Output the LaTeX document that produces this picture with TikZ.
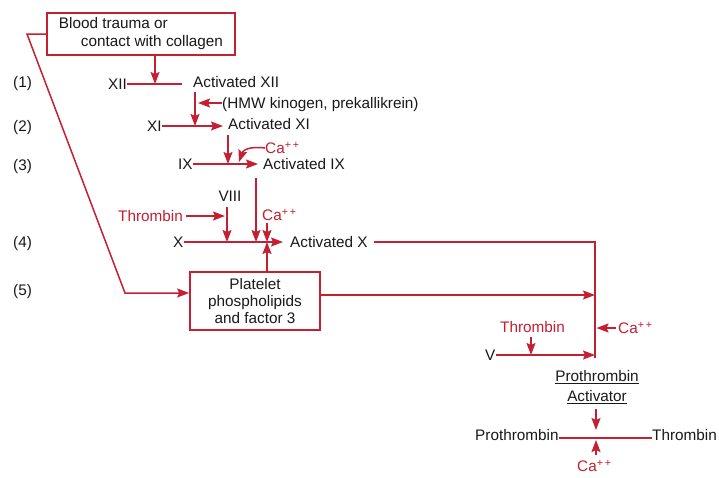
\documentclass[tikz,border=0pt]{standalone}
\usepackage{fontspec}
\setmainfont{Liberation Sans}
\usetikzlibrary{arrows.meta}
\definecolor{cred}{RGB}{196,32,50}
\definecolor{ctext}{RGB}{25,25,25}
\newcommand\myul[1]{\setbox0\hbox{#1}\leavevmode\rlap{\rule[-2.8pt]{\wd0}{1.4pt}}\box0}
\newcommand\caplus{Ca\textsuperscript{+\,+}}
\begin{document}
\begin{tikzpicture}[x=1pt,y=-1pt,
  fnt/.style={font=\fontsize{15.3}{18}\selectfont},
  txt/.style={fnt, inner sep=0pt, text height=11pt, text depth=0pt, anchor=west, text=ctext},
  rtxt/.style={txt, text=cred},
  ln/.style={draw=cred, line width=1.5pt},
  arr/.style={ln, -{Stealth[length=12pt,width=9pt,inset=2pt]}},
  box/.style={draw=cred, line width=1.7pt, fill=white, inner sep=0pt, text=ctext, align=center}
]
\useasboundingbox (0,0) rectangle (719,477);
\fill[white] (0,0) rectangle (719,477);

% step labels
\node[txt] (n1) at (13,82) {(1)};
\node[txt] (n2) at (13,126) {(2)};
\node[txt] (n3) at (13,165) {(3)};
\node[txt] (n4) at (13,242) {(4)};
\node[txt] (n5) at (13,290) {(5)};

% boxes
\node[box, minimum width=188pt, minimum height=42pt, font=\fontsize{15.3}{18}\selectfont, align=left] (trauma) at (141,34)
  {Blood trauma or\\\hspace*{22pt}contact with collagen};
\node[box, minimum width=130pt, minimum height=58pt, font=\fontsize{15.3}{17}\selectfont] (plat) at (255,301)
  {Platelet\\phospholipids\\and factor 3};

% texts
\node[txt] (xii) at (108,84) {XII};
\node[txt] (axii) at (193,82) {Activated XII};
\node[txt] (hmw) at (222,103) {(HMW kinogen, prekallikrein)};
\node[txt] (xi) at (147,126) {XI};
\node[txt] (axi) at (228,124) {Activated XI};
\node[rtxt] (ca1) at (265,148) {\caplus};
\node[txt] (ix) at (178,164) {IX};
\node[txt] (aix) at (263,164) {Activated IX};
\node[txt, anchor=center] (viii) at (230,196) {VIII};
\node[rtxt] (thr1) at (118,216) {Thrombin};
\node[rtxt] (ca2) at (262,215) {\caplus};
\node[txt] (xx) at (173,242) {X};
\node[txt] (ax) at (290,242) {Activated X};
\node[rtxt] (thr2) at (500,327) {Thrombin};
\node[rtxt] (ca3) at (618,328) {\caplus};
\node[txt] (vv) at (485,355) {V};
\node[fnt, inner sep=0pt, align=center, text=ctext, font=\fontsize{15.3}{20}\selectfont] (pat) at (597,387)
  {\myul{Prothrombin}\\\myul{Activator}};
\node[txt] (pro) at (475,435) {Prothrombin};
\node[txt] (thr3) at (652,435) {Thrombin};
\node[rtxt] (ca4) at (577,466) {\caplus};

% coordinates on reaction lines
\coordinate (m12) at (155,84);
\coordinate (m11) at (195,126);
\coordinate (hmwtip) at (195,103);
\coordinate (m9) at (228,164);
\coordinate (m9c) at (239,162);
\coordinate (m10a) at (227,242);
\coordinate (m10b) at (256,242);
\coordinate (m10c) at (267,242);
\coordinate (d1) at (27,34);
\coordinate (d2) at (125,293);
\coordinate (patop) at (595,242);
\coordinate (pa1) at (595,295);
\coordinate (pa3) at (595,328);
\coordinate (pa2) at (595,355);
\coordinate (pabot) at (595,358);
\coordinate (pv) at (531,355);
\coordinate (pc) at (596,438);

% (1)
\draw[arr] (trauma.south -| m12) -- (m12);
\draw[ln, shorten >=11pt] (xii.east) -- (axii.west |- xii.east);
% (2)
\draw[arr, shorten <=4.5pt] (axii.south west -| m11) -- (m11);
\draw[arr, shorten >=3pt] (hmw.west) -- (hmwtip);
\draw[arr, shorten >=5pt] (xi.east) -- (axi.west |- xi.east);
% (3)
\draw[arr, shorten <=5pt] (axi.south west -| m9) -- (m9);
\draw[arr] (ca1.west) .. controls (250,146) and (243,150) .. (m9c);
\draw[arr, shorten >=5pt] (ix.east) -- (aix.west |- ix.east);
% (4)
\draw[arr, shorten <=8pt] (aix.south west -| m10b) -- (m10b);
\draw[arr, shorten <=5pt] (viii.south -| m10a) -- (m10a);
\draw[arr, shorten <=3pt, shorten >=2pt] (thr1.east) -- (thr1.east -| m10a);
\draw[arr, shorten <=2pt] (ca2.south -| m10c) -- (m10c);
\draw[arr, shorten >=7pt] (xx.east) -- (ax.west |- xx.east);
\draw[arr] (plat.north -| m10c) -- (m10c);
% (5)
\draw[arr] (trauma.west) -- (d1) -- (d2) -- (plat.west |- d2);
\draw[ln, shorten <=6pt] (ax.east) -- (patop) -- (pabot);
\draw[arr] (plat.east |- pa1) -- (pa1);
\draw[arr, shorten <=4.5pt] (thr2.south -| pv) -- (pv);
\draw[arr] (vv.east) -- (pa2);
\draw[arr, shorten <=2pt, shorten >=1.5pt] (ca3.west) -- (pa3);
% prothrombin -> thrombin
\draw[arr, shorten <=5pt, shorten >=8pt] (pat.south -| pc) -- (pc);
\draw[ln] (pro.east |- pc) -- (thr3.west |- pc);
\draw[arr, shorten <=5pt, shorten >=2pt] (ca4.north -| pc) -- (pc);
\end{tikzpicture}
\end{document}
